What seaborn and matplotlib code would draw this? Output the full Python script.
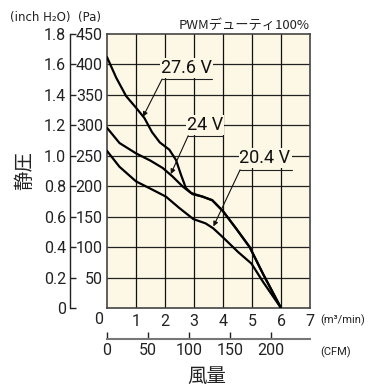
import numpy as np
import pandas as pd
import matplotlib
matplotlib.use("Agg")
import matplotlib.pyplot as plt
import matplotlib.transforms as mtrans
import seaborn as sns

# ---- data (m3/min, Pa) ----
x_276 = [0, 0.32, 0.66, 1.0, 1.29, 1.55, 1.82, 2.15, 2.38, 2.55, 2.72, 2.95, 3.29, 3.63, 4.0, 4.46, 4.92, 5.38, 6.0]
p_276 = [412, 378, 348, 329, 312, 289, 272, 260, 243, 219, 197, 187, 183, 177, 159, 130, 100, 56, 0]
x_24 = [0, 0.43, 1.0, 1.5, 1.92, 2.26, 2.6, 2.89, 3.29, 3.63, 4.0, 4.46, 4.92, 5.38, 6.0]
p_24 = [296, 271, 254, 242, 230, 216, 200, 189, 183, 177, 159, 130, 100, 56, 0]
x_204 = [0, 0.43, 1.0, 1.58, 2.03, 2.5, 2.98, 3.4, 3.66, 4.0, 4.52, 4.98, 5.38, 6.0]
p_204 = [258, 232, 208, 194, 183, 164, 146, 139, 131, 116, 92, 73, 43, 0]
series_names = ["27.6 V", "24 V", "20.4 V"]

pa_ticks = [0, 50, 100, 150, 200, 250, 300, 350, 400, 450]
inch_ticks = [0, 0.2, 0.4, 0.6, 0.8, 1.0, 1.2, 1.4, 1.6, 1.8]
flow_ticks = [1, 2, 3, 4, 5, 6, 7]
cfm_ticks = [0, 50, 100, 150, 200]

sns.set_style("white")
NARROW = ["Roboto", "DejaVu Sans"]
CJK = ["Noto Sans CJK JP", "DejaVu Sans"]
plt.rcParams["font.family"] = NARROW

df = pd.concat([
    pd.DataFrame({"flow": x_276, "pa": p_276, "v": series_names[0]}),
    pd.DataFrame({"flow": x_24, "pa": p_24, "v": series_names[1]}),
    pd.DataFrame({"flow": x_204, "pa": p_204, "v": series_names[2]}),
])

fig = plt.figure(figsize=(3.71, 3.87), dpi=100)
ax = fig.add_axes([0.2884, 0.2041, 0.5472, 0.708])
ax.set_facecolor("#FCF8E5")

sns.lineplot(data=df, x="flow", y="pa", units="v", estimator=None, sort=False,
             color="black", lw=1.6, ax=ax, zorder=3, legend=False)

ax.set_xlim(0, 7)
ax.set_ylim(0, 450)
ax.set_xticks(flow_ticks)
ax.set_yticks(pa_ticks)
for t in pa_ticks[1:-1]:
    ax.axhline(t, color="#222222", lw=0.9, zorder=1)
for t in flow_ticks[:-1]:
    ax.axvline(t, color="#111111", lw=0.9, zorder=1)
for s in ax.spines.values():
    s.set_color("#444444")
    s.set_linewidth(1.2)
TS = 11.5
ax.tick_params(axis="both", length=0, labelsize=TS, colors="#222222")
ax.tick_params(axis="y", pad=3)
ax.tick_params(axis="x", pad=4)
ax.set_xlabel("")
ax.set_ylabel("")
ax.set_yticklabels([str(t) for t in pa_ticks])
lbl0 = ax.get_yticklabels()[0]
lbl0.set_transform(lbl0.get_transform() + mtrans.ScaledTranslation(0, -7 / 72, fig.dpi_scale_trans))

# inch H2O axis
sec_y = ax.secondary_yaxis(-0.182, functions=(lambda p: p / 250.0, lambda i: i * 250.0))
sec_y.set_yticks(inch_ticks)
sec_y.set_yticklabels(["0" if v == 0 else f"{v:.1f}" for v in inch_ticks])
sec_y.tick_params(axis="y", direction="in", length=4.5, width=1, colors="#222222", labelsize=TS, pad=3)
sec_y.spines["left"].set_color("#222222")
sec_y.spines["left"].set_linewidth(1)

# CFM axis
sec_x = ax.secondary_xaxis(-0.113, functions=(lambda m: m * 35.3147, lambda c: c / 35.3147))
sec_x.set_xticks(cfm_ticks)
sec_x.tick_params(axis="x", direction="in", length=5, width=1, colors="#222222", labelsize=TS, pad=3)
sec_x.spines["bottom"].set_color("#777777")
sec_x.spines["bottom"].set_linewidth(1.5)

# annotations
bb = dict(boxstyle="square,pad=0.05", fc="#FCF8E5", ec="none")
labels = [
    (series_names[0], 2.75, 394, (1.9, 3.62), 376, (1.24, 314)),
    (series_names[1], 3.38, 300, (2.8, 4.0), 283, (2.2, 220)),
    (series_names[2], 5.45, 246, (4.59, 6.37), 227, (3.67, 134)),
]
for name, tx, ty, (ux0, ux1), uy, tip in labels:
    ax.text(tx, ty, name, ha="center", va="center", fontsize=13, bbox=bb, zorder=4, color="#111111")
    ax.plot([ux0, ux1], [uy, uy], color="#222222", lw=0.8, zorder=4, clip_on=False)
    ax.annotate("", xy=tip, xytext=(ux0, uy),
                arrowprops=dict(arrowstyle="-|>", lw=0.8, color="#111111",
                                mutation_scale=7, shrinkA=0, shrinkB=0), zorder=5)

# texts
fig.text(10 / 371, 1 - 17 / 387, "(inch H₂O)  (Pa)", fontsize=8.5, ha="left", va="center", color="#222222",
         family=["DejaVu Sans"])
fig.text(310 / 371, 1 - 25 / 387, "PWMデューティ100%", fontsize=9.5, ha="right", va="center",
         color="#222222", family=CJK)
fig.text(320 / 371, 1 - 320 / 387, "(m³/min)", fontsize=8, ha="left", va="center", color="#222222",
         family=["Roboto", "DejaVu Sans"])
fig.text(320 / 371, 1 - 352 / 387, "(CFM)", fontsize=8, ha="left", va="center", color="#222222",
         family=["Roboto", "DejaVu Sans"])
fig.text(207 / 371, 1 - 376 / 387, "風量", fontsize=14, ha="center", va="center", color="#222222", family=CJK)
fig.text(25 / 371, 1 - 170 / 387, "静圧", fontsize=14, ha="center", va="center", rotation=90,
         color="#222222", family=CJK)

fig.savefig("out.png", dpi=100)
